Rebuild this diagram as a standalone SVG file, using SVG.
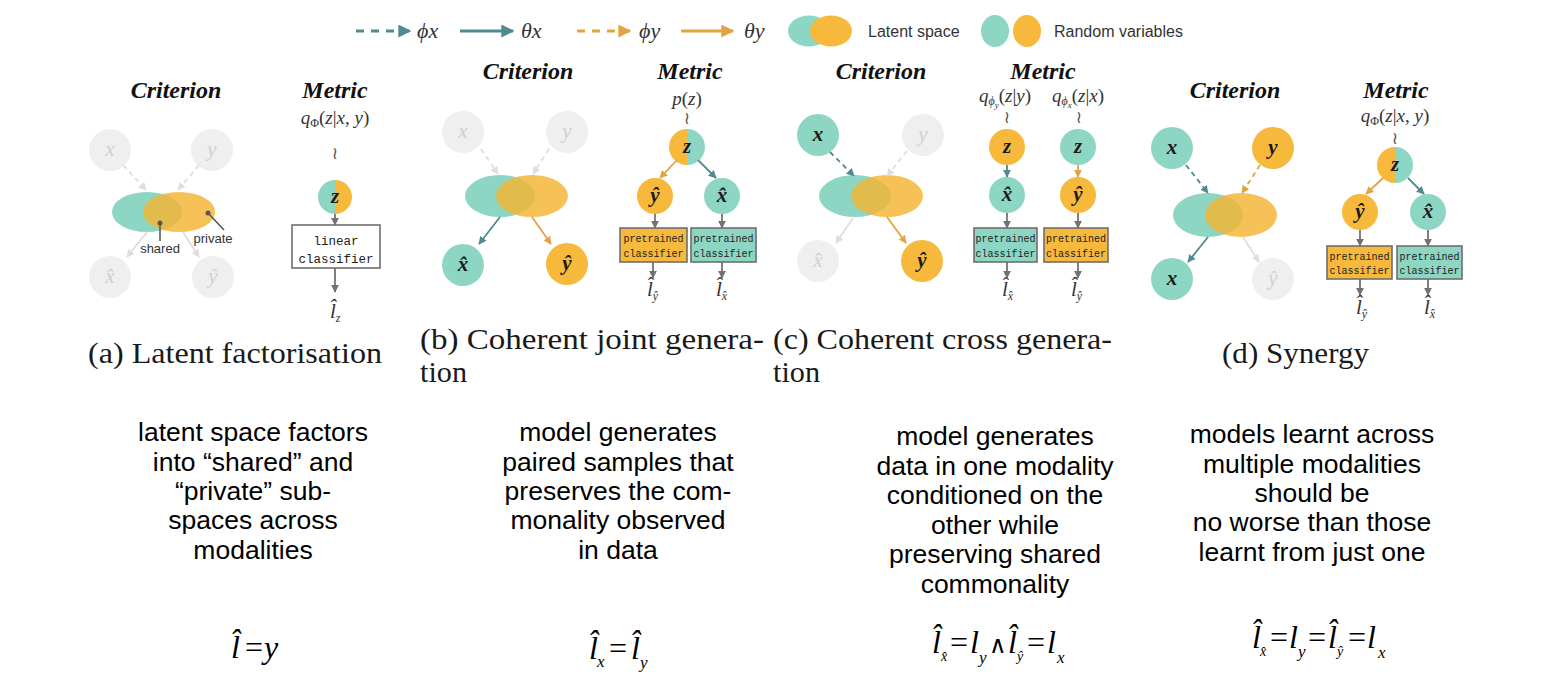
<svg xmlns="http://www.w3.org/2000/svg" width="1547" height="699" viewBox="0 0 1547 699">
<defs>
<style>
.t{fill:#8dd6c3}
.o{fill:#f6b93b}
.g{fill:#efefef}
.eo{fill:#f4b532;fill-opacity:0.82}
.title{font-family:"Liberation Serif",serif;font-weight:bold;font-style:italic;font-size:24px;text-anchor:middle;fill:#111}
.v{font-family:"Liberation Serif",serif;font-weight:bold;font-style:italic;font-size:21px;text-anchor:middle;fill:#1a1a1a}
.vg{font-family:"Liberation Serif",serif;font-style:italic;font-size:21px;text-anchor:middle;fill:#cfcfcf}
.ml{font-family:"Liberation Serif",serif;font-size:19px;text-anchor:middle;fill:#333}
.i{font-style:italic}
.mono{font-family:"Liberation Mono",monospace;font-size:10px;text-anchor:middle;fill:#222}
.monob{font-family:"Liberation Mono",monospace;font-size:12.5px;text-anchor:middle;fill:#222}
.box{stroke:#6f6f6f;stroke-width:1.6}
.lab{font-family:"Liberation Serif",serif;font-style:italic;font-size:21px;fill:#333}
.sub{font-size:12px}
.wr{font-family:"DejaVu Sans",sans-serif;font-size:17px;text-anchor:middle;fill:#555}
.cap{font-family:"Liberation Serif",serif;font-size:30px;fill:#1a1a1a}
.desc{font-family:"Liberation Sans",sans-serif;font-size:26.5px;text-anchor:middle;fill:#000}
.fm{font-family:"Liberation Serif",serif;font-size:32px;fill:#000}
.fs{font-family:"Liberation Serif",serif;font-size:17px;font-style:italic;fill:#000}
.fss{font-family:"Liberation Serif",serif;font-size:14px;font-style:italic;fill:#000}
.and{font-family:"DejaVu Serif",serif;font-weight:normal;font-size:24px}
.leg{font-family:"Liberation Sans",sans-serif;font-size:16px;fill:#333}
.lm{font-family:"Liberation Serif",serif;font-style:italic;font-size:22px;fill:#333}
.ann{font-family:"Liberation Sans",sans-serif;font-size:13px;text-anchor:middle;fill:#333}
.ptr{stroke:#555;stroke-width:1.5;fill:none}
.c{fill:none;stroke-width:1.8}
.ct{stroke:#4e8a8e;marker-end:url(#mT)}
.co{stroke:#e1a443;marker-end:url(#mO)}
.cg{stroke:#727272;marker-end:url(#mG)}
.cl{stroke:#dedede;marker-end:url(#mL)}
.d{stroke-dasharray:5 4}
.lgt{stroke:#4e8a8e;stroke-width:3;fill:none;marker-end:url(#mTL)}
.lgo{stroke:#e1a443;stroke-width:3;fill:none;marker-end:url(#mOL)}
.ld{stroke-dasharray:8 7}
</style>
<marker id="mT" viewBox="0 0 10 10" refX="9" refY="5" markerWidth="8" markerHeight="8" markerUnits="userSpaceOnUse" orient="auto"><path d="M0,0 L10,5 L0,10 z" fill="#4e8a8e"/></marker>
<marker id="mO" viewBox="0 0 10 10" refX="9" refY="5" markerWidth="8" markerHeight="8" markerUnits="userSpaceOnUse" orient="auto"><path d="M0,0 L10,5 L0,10 z" fill="#e1a443"/></marker>
<marker id="mG" viewBox="0 0 10 10" refX="9" refY="5" markerWidth="8" markerHeight="8" markerUnits="userSpaceOnUse" orient="auto"><path d="M0,0 L10,5 L0,10 z" fill="#727272"/></marker>
<marker id="mL" viewBox="0 0 10 10" refX="9" refY="5" markerWidth="8" markerHeight="8" markerUnits="userSpaceOnUse" orient="auto"><path d="M0,0 L10,5 L0,10 z" fill="#dedede"/></marker>
<marker id="mTL" viewBox="0 0 10 10" refX="9" refY="5" markerWidth="13" markerHeight="13" markerUnits="userSpaceOnUse" orient="auto"><path d="M0,0 L10,5 L0,10 z" fill="#4e8a8e"/></marker>
<marker id="mOL" viewBox="0 0 10 10" refX="9" refY="5" markerWidth="13" markerHeight="13" markerUnits="userSpaceOnUse" orient="auto"><path d="M0,0 L10,5 L0,10 z" fill="#e1a443"/></marker>
</defs>
<rect x="0" y="0" width="1547" height="699" fill="#fff"/>

<g id="legend">
<line class="lgt ld" x1="356" y1="31" x2="410" y2="31"/>
<text class="lm" x="417" y="38">ϕx</text>
<line class="lgt" x1="460" y1="31" x2="513" y2="31"/>
<text class="lm" x="521" y="38">θx</text>
<line class="lgo ld" x1="577" y1="31" x2="630" y2="31"/>
<text class="lm" x="639" y="38">ϕy</text>
<line class="lgo" x1="681" y1="31" x2="733" y2="31"/>
<text class="lm" x="744" y="38">θy</text>
<ellipse class="t" cx="809" cy="31" rx="21" ry="15.5"/>
<ellipse class="o" cx="831" cy="31" rx="21" ry="15.5"/>
<text class="leg" x="868" y="37">Latent space</text>
<ellipse class="t" cx="995" cy="31" rx="14" ry="16"/>
<ellipse class="o" cx="1027" cy="31" rx="14" ry="16"/>
<text class="leg" x="1054" y="37">Random variables</text>
</g>

<!-- Panel a -->
<g id="a-criterion">
<text class="title" x="176" y="98">Criterion</text>
<circle class="g" cx="110" cy="150" r="21"/><text class="vg" x="110" y="156">x</text>
<circle class="g" cx="212" cy="150" r="21"/><text class="vg" x="212" y="156">y</text>
<circle class="g" cx="110" cy="277" r="21"/><text class="vg" x="110" y="283">x̂</text>
<circle class="g" cx="213" cy="277" r="21"/><text class="vg" x="213" y="283">ŷ</text>
<ellipse class="t" cx="147" cy="212" rx="35" ry="20"/>
<ellipse class="eo" cx="179" cy="212" rx="36" ry="20"/>
<circle cx="160" cy="223" r="2.5" fill="#555"/>
<line class="ptr" x1="160" y1="223" x2="160" y2="241"/>
<text class="ann" x="160" y="253">shared</text>
<circle cx="208" cy="213" r="2.5" fill="#555"/>
<line class="ptr" x1="208" y1="213" x2="224" y2="230"/>
<text class="ann" x="213" y="243">private</text>
</g>
<g id="a-metric">
<text class="title" x="335" y="98">Metric</text>
<text class="ml" x="335" y="124"><tspan class="i">q</tspan><tspan font-size="12" dy="3">Φ</tspan><tspan dy="-3">(</tspan><tspan class="i">z</tspan>|<tspan class="i">x</tspan>, <tspan class="i">y</tspan>)</text>
<text class="wr" x="335" y="159">≀</text>
<path class="t" d="M335,180 A17,17 0 0 0 335,214 Z"/>
<path class="o" d="M335,180 A17,17 0 0 1 335,214 Z"/>
<text class="v" x="335" y="203">z</text>
<rect class="box" x="292" y="225" width="88" height="43" fill="#fff"/>
<text class="monob" x="336" y="245">linear</text>
<text class="monob" x="336" y="263">classifier</text>
<text class="lab" x="330" y="318" font-size="22">l̂<tspan class="sub" dy="4">z</tspan></text>
</g>

<!-- Panel b -->
<g id="b-criterion">
<text class="title" x="528" y="79">Criterion</text>
<circle class="g" cx="463" cy="132" r="21"/><text class="vg" x="463" y="138">x</text>
<circle class="g" cx="567" cy="132" r="21"/><text class="vg" x="567" y="138">y</text>
<ellipse class="t" cx="500" cy="196" rx="35" ry="21"/>
<ellipse class="eo" cx="532" cy="196" rx="36" ry="21"/>
<circle class="t" cx="463" cy="265" r="21"/><text class="v" x="463" y="271">x̂</text>
<circle class="o" cx="567" cy="264" r="21"/><text class="v" x="567" y="270">ŷ</text>
</g>
<g id="b-metric">
<text class="title" x="690" y="79">Metric</text>
<text class="ml" x="687" y="105"><tspan class="i">p</tspan>(<tspan class="i">z</tspan>)</text>
<text class="wr" x="687" y="124">≀</text>
<path class="o" d="M687,129 A18,18 0 0 0 687,165 Z"/>
<path class="t" d="M687,129 A18,18 0 0 1 687,165 Z"/>
<text class="v" x="687" y="153">z</text>
<circle class="o" cx="655" cy="196" r="18"/><text class="v" x="655" y="202">ŷ</text>
<circle class="t" cx="722" cy="196" r="18"/><text class="v" x="722" y="202">x̂</text>
<rect class="box o" x="620" y="228" width="67" height="34"/>
<text class="mono" x="653.5" y="242">pretrained</text>
<text class="mono" x="653.5" y="257">classifier</text>
<rect class="box t" x="691" y="228" width="65" height="34"/>
<text class="mono" x="723.5" y="242">pretrained</text>
<text class="mono" x="723.5" y="257">classifier</text>
<text class="lab" x="647" y="296">l̂<tspan class="sub" dy="4">ŷ</tspan></text>
<text class="lab" x="716" y="296">l̂<tspan class="sub" dy="4">x̂</tspan></text>
</g>

<!-- Panel c -->
<g id="c-criterion">
<text class="title" x="881" y="79">Criterion</text>
<circle class="t" cx="818" cy="135" r="21"/><text class="v" x="818" y="141">x</text>
<circle class="g" cx="923" cy="135" r="21"/><text class="vg" x="923" y="141">y</text>
<ellipse class="t" cx="855" cy="196" rx="36" ry="21"/>
<ellipse class="eo" cx="887" cy="196" rx="36" ry="21"/>
<circle class="g" cx="818" cy="261" r="21"/><text class="vg" x="818" y="267">x̂</text>
<circle class="o" cx="922" cy="261" r="21"/><text class="v" x="922" y="267">ŷ</text>
</g>
<g id="c-metric">
<text class="title" x="1043" y="79">Metric</text>
<text class="ml" x="1005" y="102"><tspan class="i">q</tspan><tspan font-size="12" dy="3" class="i">ϕ</tspan><tspan font-size="9" dy="3" class="i">y</tspan><tspan dy="-6">(</tspan><tspan class="i">z</tspan>|<tspan class="i">y</tspan>)</text>
<text class="ml" x="1078" y="102"><tspan class="i">q</tspan><tspan font-size="12" dy="3" class="i">ϕ</tspan><tspan font-size="9" dy="3" class="i">x</tspan><tspan dy="-6">(</tspan><tspan class="i">z</tspan>|<tspan class="i">x</tspan>)</text>
<text class="wr" x="1007" y="123">≀</text>
<text class="wr" x="1079" y="123">≀</text>
<circle class="o" cx="1007" cy="147" r="18"/><text class="v" x="1007" y="153">z</text>
<circle class="t" cx="1078" cy="147" r="18"/><text class="v" x="1078" y="153">z</text>
<circle class="t" cx="1007" cy="195" r="18"/><text class="v" x="1007" y="201">x̂</text>
<circle class="o" cx="1078" cy="195" r="18"/><text class="v" x="1078" y="201">ŷ</text>
<rect class="box t" x="974" y="228" width="63" height="34"/>
<text class="mono" x="1005.5" y="242">pretrained</text>
<text class="mono" x="1005.5" y="257">classifier</text>
<rect class="box o" x="1044" y="228" width="64" height="34"/>
<text class="mono" x="1076" y="242">pretrained</text>
<text class="mono" x="1076" y="257">classifier</text>
<text class="lab" x="1002" y="296">l̂<tspan class="sub" dy="4">x̂</tspan></text>
<text class="lab" x="1071" y="296">l̂<tspan class="sub" dy="4">ŷ</tspan></text>
</g>

<!-- Panel d -->
<g id="d-criterion">
<text class="title" x="1235" y="98">Criterion</text>
<circle class="t" cx="1172" cy="148" r="21"/><text class="v" x="1172" y="154">x</text>
<circle class="o" cx="1273" cy="148" r="21"/><text class="v" x="1273" y="154">y</text>
<ellipse class="t" cx="1208" cy="215" rx="35" ry="22"/>
<ellipse class="eo" cx="1241" cy="215" rx="36" ry="22"/>
<circle class="t" cx="1172" cy="279" r="21"/><text class="v" x="1172" y="285">x</text>
<circle class="g" cx="1273" cy="279" r="21"/><text class="vg" x="1273" y="285">ŷ</text>
</g>
<g id="d-metric">
<text class="title" x="1396" y="98">Metric</text>
<text class="ml" x="1395" y="122"><tspan class="i">q</tspan><tspan font-size="12" dy="3">Φ</tspan><tspan dy="-3">(</tspan><tspan class="i">z</tspan>|<tspan class="i">x</tspan>, <tspan class="i">y</tspan>)</text>
<text class="wr" x="1395" y="144">≀</text>
<path class="o" d="M1395,147 A18,18 0 0 0 1395,183 Z"/>
<path class="t" d="M1395,147 A18,18 0 0 1 1395,183 Z"/>
<text class="v" x="1395" y="171">z</text>
<circle class="o" cx="1360" cy="212" r="18"/><text class="v" x="1360" y="218">ŷ</text>
<circle class="t" cx="1428" cy="212" r="18"/><text class="v" x="1428" y="218">x̂</text>
<rect class="box o" x="1327" y="246" width="65" height="33"/>
<text class="mono" x="1359.5" y="260">pretrained</text>
<text class="mono" x="1359.5" y="274">classifier</text>
<rect class="box t" x="1397" y="246" width="65" height="33"/>
<text class="mono" x="1429.5" y="260">pretrained</text>
<text class="mono" x="1429.5" y="274">classifier</text>
<text class="lab" x="1356" y="314">l̂<tspan class="sub" dy="4">ŷ</tspan></text>
<text class="lab" x="1424" y="314">l̂<tspan class="sub" dy="4">x̂</tspan></text>
</g>

<g id="connectors">
<line class="c cl d" x1="123" y1="165" x2="146" y2="190"/>
<line class="c cl d" x1="199" y1="165" x2="178" y2="190"/>
<line class="c cl" x1="147" y1="232" x2="127" y2="257"/>
<line class="c cl" x1="183" y1="232" x2="199" y2="257"/>
<line class="c cg" x1="335" y1="214" x2="335" y2="225"/>
<line class="c cg" x1="335" y1="268" x2="335" y2="292"/>
<line class="c cl d" x1="481" y1="149" x2="498" y2="174"/>
<line class="c cl d" x1="549" y1="149" x2="533" y2="174"/>
<line class="c ct" x1="500" y1="217" x2="479" y2="244"/>
<line class="c co" x1="532" y1="217" x2="551" y2="244"/>
<line class="c co" x1="677" y1="160" x2="660" y2="178"/>
<line class="c ct" x1="698" y1="160" x2="716" y2="178"/>
<line class="c cg" x1="655" y1="214" x2="655" y2="228"/>
<line class="c cg" x1="722" y1="214" x2="722" y2="228"/>
<line class="c cg" x1="653" y1="262" x2="653" y2="278"/>
<line class="c cg" x1="722" y1="262" x2="722" y2="278"/>
<line class="c ct d" x1="830" y1="152" x2="854" y2="176"/>
<line class="c cl d" x1="907" y1="151" x2="887" y2="176"/>
<line class="c cl" x1="853" y1="218" x2="836" y2="243"/>
<line class="c co" x1="887" y1="217" x2="906" y2="243"/>
<line class="c ct" x1="1007" y1="165" x2="1007" y2="177"/>
<line class="c co" x1="1078" y1="165" x2="1078" y2="177"/>
<line class="c cg" x1="1007" y1="213" x2="1007" y2="228"/>
<line class="c cg" x1="1078" y1="213" x2="1078" y2="228"/>
<line class="c cg" x1="1007" y1="262" x2="1007" y2="278"/>
<line class="c cg" x1="1078" y1="262" x2="1078" y2="278"/>
<line class="c ct d" x1="1186" y1="165" x2="1208" y2="193"/>
<line class="c co d" x1="1260" y1="165" x2="1242" y2="193"/>
<line class="c ct" x1="1208" y1="237" x2="1188" y2="262"/>
<line class="c cl" x1="1243" y1="237" x2="1259" y2="262"/>
<line class="c co" x1="1383" y1="178" x2="1366" y2="194"/>
<line class="c ct" x1="1408" y1="178" x2="1424" y2="194"/>
<line class="c cg" x1="1360" y1="230" x2="1360" y2="246"/>
<line class="c cg" x1="1428" y1="230" x2="1428" y2="246"/>
<line class="c cg" x1="1360" y1="279" x2="1360" y2="295"/>
<line class="c cg" x1="1428" y1="279" x2="1428" y2="295"/>
</g>

<g id="captions">
<text class="cap" x="88" y="363" textLength="294" lengthAdjust="spacingAndGlyphs">(a) Latent factorisation</text>
<text class="cap" x="420" y="349" textLength="344" lengthAdjust="spacingAndGlyphs">(b) Coherent joint genera-</text>
<text class="cap" x="420" y="382" textLength="47" lengthAdjust="spacingAndGlyphs">tion</text>
<text class="cap" x="773" y="349" textLength="339" lengthAdjust="spacingAndGlyphs">(c) Coherent cross genera-</text>
<text class="cap" x="773" y="382" textLength="47" lengthAdjust="spacingAndGlyphs">tion</text>
<text class="cap" x="1222" y="363" textLength="147" lengthAdjust="spacingAndGlyphs">(d) Synergy</text>
</g>

<g id="descriptions">
<text class="desc" x="253" y="441">latent space factors</text>
<text class="desc" x="253" y="471">into “shared” and</text>
<text class="desc" x="253" y="500">“private” sub-</text>
<text class="desc" x="253" y="529">spaces across</text>
<text class="desc" x="253" y="559">modalities</text>
<text class="desc" x="618" y="441">model generates</text>
<text class="desc" x="618" y="471">paired samples that</text>
<text class="desc" x="618" y="500">preserves the com-</text>
<text class="desc" x="618" y="529">monality observed</text>
<text class="desc" x="618" y="559">in data</text>
<text class="desc" x="995" y="445">model generates</text>
<text class="desc" x="995" y="475">data in one modality</text>
<text class="desc" x="995" y="504">conditioned on the</text>
<text class="desc" x="995" y="534">other while</text>
<text class="desc" x="995" y="563">preserving shared</text>
<text class="desc" x="995" y="593">commonality</text>
<text class="desc" x="1312" y="443">models learnt across</text>
<text class="desc" x="1312" y="473">multiple modalities</text>
<text class="desc" x="1312" y="502">should be</text>
<text class="desc" x="1312" y="531">no worse than those</text>
<text class="desc" x="1312" y="561">learnt from just one</text>
</g>

<g id="formulas">
<text class="fm" y="658"><tspan class="i" x="231">l̂</tspan><tspan x="245">=</tspan><tspan class="i" x="264">y</tspan></text>

<text class="fm" y="659"><tspan class="i" x="589">l̂</tspan><tspan x="609">=</tspan><tspan class="i" x="631">l̂</tspan></text>
<text class="fs" x="597" y="667">x</text>
<text class="fs" x="640" y="668">y</text>

<text class="fm" y="653"><tspan class="i" x="932">l̂</tspan><tspan x="950">=</tspan><tspan class="i" x="970">l</tspan><tspan class="and" x="989">∧</tspan><tspan class="i" x="1008">l̂</tspan><tspan x="1027">=</tspan><tspan class="i" x="1047">l</tspan></text>
<text class="fss" x="941" y="661">x̂</text>
<text class="fs" x="979" y="663">y</text>
<text class="fss" x="1017" y="661">ŷ</text>
<text class="fs" x="1057" y="663">x</text>

<text class="fm" y="648"><tspan class="i" x="1252">l̂</tspan><tspan x="1270">=</tspan><tspan class="i" x="1289">l</tspan><tspan x="1308">=</tspan><tspan class="i" x="1328">l̂</tspan><tspan x="1348">=</tspan><tspan class="i" x="1367">l</tspan></text>
<text class="fss" x="1260" y="656">x̂</text>
<text class="fs" x="1298" y="657">y</text>
<text class="fss" x="1337" y="656">ŷ</text>
<text class="fs" x="1378" y="658">x</text>
</g>
</svg>
